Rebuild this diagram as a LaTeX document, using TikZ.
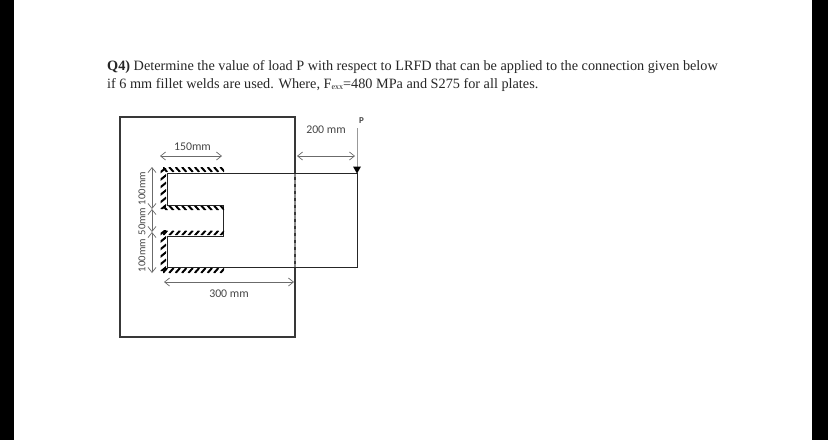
\documentclass[tikz,border=0pt]{standalone}
\usepackage{fontspec}
\setmainfont{Liberation Serif}
\newfontfamily\lblfont{Carlito}
\usetikzlibrary{arrows.meta}
\definecolor{dimgray}{gray}{0.42}
\definecolor{edgegray}{gray}{0.22}
\tikzset{
  x=1pt,y=-1pt,
  plate/.style={draw=edgegray,line width=1.1pt},
  plateb/.style={draw=black!85,line width=0.95pt},
  dimline/.style={draw=dimgray,line width=0.7pt,{Straight Barb[length=5pt,width=8pt]}-{Straight Barb[length=5pt,width=8pt]}},
  lbl/.style={font=\lblfont\fontsize{11.8}{12}\selectfont,text=black!72,inner sep=0pt},
  vlbl/.style={font=\lblfont\fontsize{10.6}{11}\selectfont,text=black!72,inner sep=0pt,rotate=90},
  body/.style={anchor=base west,inner sep=0pt,font=\fontsize{14.25}{16}\selectfont,text=black!85},
  hatchline/.style={draw=black,line width=2pt}
}
\begin{document}
\begin{tikzpicture}
\useasboundingbox (0,0) rectangle (828,440);
\fill[white] (0,0) rectangle (828,440);
\fill[black] (0,0) rectangle (14,440);
\fill[black] (812,0) rectangle (828,440);
% text
\node[body] (l1) at (107,70) {\textbf{Q4)} Determine the value of load P with respect to LRFD that can be applied to the connection given below};
\node[body] (l2) at (107,88) {if 6 mm fillet welds are used. Where, F{\fontsize{8}{8}\selectfont\raisebox{-1.5pt}{exx}}=480 MPa and S275 for all plates.};
% back plate
\draw[plate] (120,117) rectangle (295,337);
% dashed hidden edge
\draw[draw=black!45,line width=1.1pt,dash pattern=on 3.5pt off 3.5pt] (295,173) -- (295,267);
% front plate
\draw[plateb] (357,173) -- (167,173) -- (167,205) -- (223,205) -- (223,236) -- (167,236) -- (167,267) -- (357,267) -- cycle;
% welds: horizontal strips (\ for the upper pair, / for the lower pair)
\begin{scope}
\clip (163,167) rectangle (224,172) (163,205.8) rectangle (224,210) (163,230.5) rectangle (224,235.2) (163,268) rectangle (224,273);
\foreach \yy/\sl in {167/-1,205.5/-1,230.5/1,268/1}{
  \foreach \i in {0,...,9}{
    \draw[hatchline] ({165+\i*6.4-\sl*2.2},{\yy+5}) -- ({165+\i*6.4+\sl*2.2},\yy);
  }
}
\end{scope}
% welds: vertical strips
\begin{scope}
\clip (160.5,168) rectangle (166,209) (160.5,230) rectangle (166,271);
\foreach \ys in {170,232}{
  \foreach \i in {0,...,5}{
    \draw[hatchline] (159.5,{\ys+\i*7.5+3}) -- (167,{\ys+\i*7.5-3});
  }
}
\end{scope}
% dimensions
\coordinate (a150l) at (160,156); \coordinate (a150r) at (222,156);
\draw[dimline] (a150l) -- (a150r);
\node[lbl] (t150) at (192.5,147) {150mm};
\coordinate (v1) at (152,167); \coordinate (v2) at (152,209); \coordinate (v3) at (152,232); \coordinate (v4) at (152,273);
\draw[dimline] (v1) -- (v2);
\draw[dimline] (v2) -- (v3);
\draw[dimline] (v3) -- (v4);
\node[vlbl] (t100a) at (142,188.5) {100mm};
\node[vlbl] (t50) at (142,221.5) {50mm};
\node[vlbl] (t100b) at (142,255.5) {100mm};
\coordinate (a300l) at (164,282); \coordinate (a300r) at (294,282);
\draw[dimline] (a300l) -- (a300r);
\node[lbl] (t300) at (229,293.5) {300 mm};
\coordinate (a200l) at (297,156); \coordinate (a200r) at (355,156);
\draw[dimline] (a200l) -- (a200r);
\node[lbl] (t200) at (326,129.5) {200 mm};
% load
\node[lbl,font=\lblfont\bfseries\fontsize{9}{9}\selectfont] (tP) at (361.5,121) {P};
\coordinate (p1) at (357,128); \coordinate (p2) at (357,173);
\draw[draw=black!40,line width=1pt] (p1) -- (p2);
\fill[black] (353,166.5) -- (361,166.5) -- (357,173.5) -- cycle;
\end{tikzpicture}
\end{document}
